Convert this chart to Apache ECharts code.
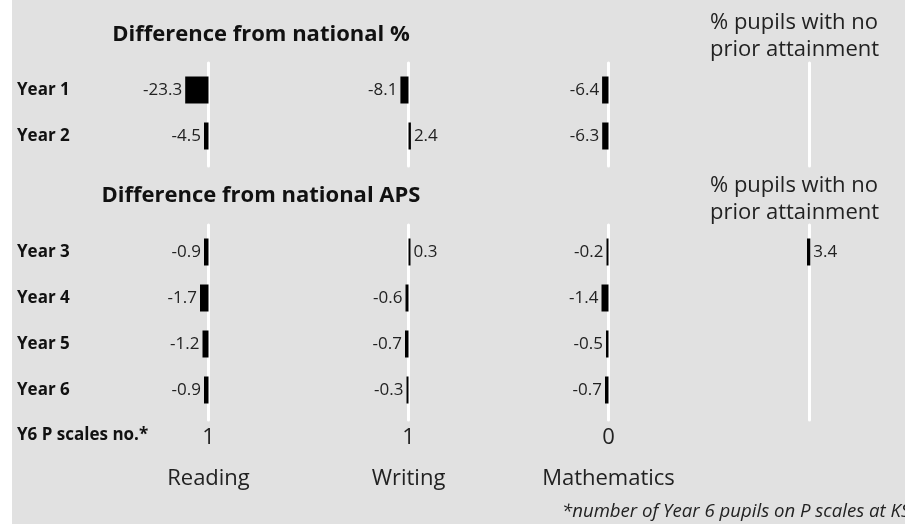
<!DOCTYPE html>
<html>
<head>
<meta charset="utf-8">
<script src="https://cdn.jsdelivr.net/npm/echarts@6/dist/echarts.min.js"></script>
<style>
  html, body { margin: 0; padding: 0; background: #fff; }
  #bg { position: absolute; left: 12px; top: 0; width: 893px; height: 524px; background: #e1e1e1; }
  #chart { position: absolute; left: 0; top: 0; width: 905px; height: 524px; }
</style>
</head>
<body>
<div id="bg"></div>
<div id="chart"></div>
<script>
// data
const subjects = ['Reading', 'Writing', 'Mathematics']
const pctRows = ['Year 1', 'Year 2']
const apsRows = ['Year 3', 'Year 4', 'Year 5', 'Year 6']
const readingPct = [-23.3, -4.5]
const writingPct = [-8.1, 2.4]
const mathsPct = [-6.4, -6.3]
const noPriorPct = [null, null]
const readingAps = [-0.9, -1.7, -1.2, -0.9]
const writingAps = [0.3, -0.6, -0.7, -0.3]
const mathsAps = [-0.2, -1.4, -0.5, -0.7]
const noPriorAps = [3.4, null, null, null]
const pScales = [1, 1, 0]

const font = "'Open Sans', 'Noto Sans', sans-serif"
const colX = [208.5, 408.5, 608.5, 809]

// two blocks: rows area and white line extent
const blocks = [
  {rows: pctRows, data: [readingPct, writingPct, mathsPct, noPriorPct], range: [100, 100, 100, 100],
    rowTop: 67, rowH: 92, lineTop: 63, lineBottom: 166, last: false},
  {rows: apsRows, data: [readingAps, writingAps, mathsAps, noPriorAps], range: [20, 20, 20, 100],
    rowTop: 229, rowH: 184, lineTop: 225, lineBottom: 420, last: true}
]

const grid = [], xAxis = [], yAxis = [], series = []

blocks.forEach(b => {
  colX.forEach((cx, c) => {
    // white zero line
    let gi = grid.length
    grid.push({left: cx - 50, width: 100, top: b.lineTop, height: b.lineBottom - b.lineTop})
    let showBottom = b.last && c < 3
    xAxis.push({
      gridIndex: gi, type: 'value', min: -1, max: 1, interval: 1,
      axisLine: {show: false}, axisTick: {show: false}, splitLine: {show: false},
      axisLabel: {
        show: showBottom, margin: 7, fontSize: 22, color: '#222', fontFamily: font,
        formatter: v => v === 0 ? String(pScales[c]) : ''
      },
      name: showBottom ? subjects[c] : '', nameLocation: 'middle', nameGap: 48,
      nameTextStyle: {fontSize: 22, color: '#222', fontFamily: font}
    })
    yAxis.push({
      gridIndex: gi, type: 'value', min: 0, max: 1,
      axisLine: {show: true, onZero: true, lineStyle: {color: '#ffffff', width: 3}},
      axisTick: {show: false}, axisLabel: {show: false}, splitLine: {show: false}
    })

    // bars
    gi = grid.length
    grid.push({left: cx - 100, width: 200, top: b.rowTop, height: b.rowH})
    xAxis.push({
      gridIndex: gi, type: 'value', min: -b.range[c], max: b.range[c], show: false
    })
    yAxis.push({
      gridIndex: gi, type: 'category', data: b.rows, inverse: true,
      axisLine: {show: false}, axisTick: {show: false}, splitLine: {show: false},
      axisLabel: {
        show: c === 0, align: 'left', margin: cx - 100 - 17,
        fontSize: 17, fontWeight: 'bold', color: '#111', fontFamily: font
      }
    })
    series.push({
      type: 'bar', xAxisIndex: gi, yAxisIndex: gi, barWidth: 27, barMinHeight: 2,
      itemStyle: {color: '#000'},
      label: {show: true, distance: 3, fontSize: 17, color: '#222', fontFamily: font,
        formatter: p => p.value == null ? '' : String(p.value)},
      data: b.data[c].map(v => ({value: v, label: {position: v < 0 ? 'left' : 'right'}}))
    })
  })
})

const txt = (x, y, text, style) => ({
  type: 'text', x: x, y: y, silent: true,
  style: Object.assign({text: text, fill: '#222', font: '22px ' + font, verticalAlign: 'middle'}, style)
})

const chart = echarts.init(document.getElementById('chart'))
chart.setOption({
  backgroundColor: 'transparent',
  animation: false,
  grid, xAxis, yAxis, series,
  graphic: [
    txt(261, 35, 'Difference from national %', {font: 'bold 22px ' + font, fill: '#111', align: 'center'}),
    txt(261, 196, 'Difference from national APS', {font: 'bold 22px ' + font, fill: '#111', align: 'center'}),
    txt(710, 9, '% pupils with no\nprior attainment', {lineHeight: 27, verticalAlign: 'top'}),
    txt(710, 172, '% pupils with no\nprior attainment', {lineHeight: 27, verticalAlign: 'top'}),
    txt(17, 435, 'Y6 P scales no.*', {font: 'bold 17px ' + font, fill: '#111'}),
    txt(562, 512, '*number of Year 6 pupils on P scales at KS2', {font: 'italic 18.6px ' + font})
  ]
})
</script>
</body>
</html>
